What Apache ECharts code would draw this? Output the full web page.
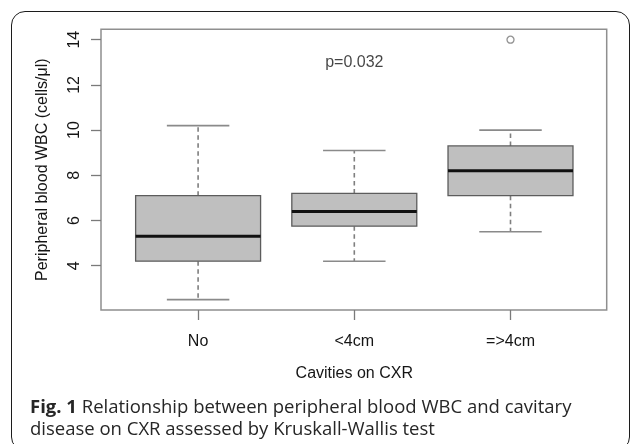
<!DOCTYPE html>
<html>
<head>
<meta charset="utf-8">
<script src="https://cdn.jsdelivr.net/npm/echarts@6/dist/echarts.min.js"></script>
<style>
  html, body { margin: 0; padding: 0; background: #fff; }
  #frame { position: absolute; left: 11px; top: 11px; width: 619px; height: 440px;
           border: 1.5px solid #1c1c1c; border-radius: 14px; box-sizing: border-box; }
  #chart { position: absolute; left: 0; top: 0; width: 630px; height: 444px; }
</style>
</head>
<body>
<div id="frame"></div>
<div id="chart"></div>
<script>
// ---- data ----
const categories = ['No', '<4cm', '=>4cm'];
const whiskerLow = [2.5, 4.2, 5.5];
const q1 = [4.2, 5.75, 7.1];
const median = [5.3, 6.4, 8.2];
const q3 = [7.1, 7.2, 9.3];
const whiskerHigh = [10.2, 9.1, 10.0];
const outlierCategory = ['=>4cm'];
const outlierValue = [14];
const yTicks = [4, 6, 8, 10, 12, 14];
const pText = 'p=0.032';
const pCategory = '<4cm';
const pY = 13;
const yTitle = 'Peripheral blood WBC (cells/\u03bcl)';
const xTitle = 'Cavities on CXR';
const captionLead = 'Fig. 1';
const captionLines = ['Relationship between peripheral blood WBC and cavitary',
                      'disease on CXR assessed by Kruskall-Wallis test'];

// R-style axis extent: data range padded by 4%
const allVals = whiskerLow.concat(whiskerHigh, outlierValue);
const lo = Math.min.apply(null, allVals), hi = Math.max.apply(null, allVals);
const pad = (hi - lo) * 0.04;
const yMin = lo - pad, yMax = hi + pad;

const FONT = 'Liberation Sans, Arial, sans-serif';
const TXT = '#151515';

const chart = echarts.init(document.getElementById('chart'));
chart.setOption({
  animation: false,
  title: {
    left: 25, top: 392,
    text: '{b|' + captionLead + '} {r|' + captionLines[0] + '}\n{r|' + captionLines[1] + '}',
    textStyle: {
      fontFamily: 'Open Sans', fontSize: 18.5, color: '#262626', lineHeight: 22,
      rich: {
        b: { fontFamily: 'Open Sans', fontWeight: 'bold', fontSize: 18.5, lineHeight: 22, color: '#262626' },
        r: { fontFamily: 'Open Sans', fontWeight: 'normal', fontSize: 18.5, lineHeight: 22, color: '#262626' }
      }
    }
  },
  grid: [
    { left: 101, right: 23.3, top: 29.3, bottom: 134, show: true,
      borderColor: '#8f8f8f', borderWidth: 1.5, backgroundColor: 'transparent' },
    { left: 120, right: 41.4, top: 29.3, bottom: 134 }
  ],
  xAxis: [
    { gridIndex: 0, type: 'value', min: 0, max: 1, show: false },
    { gridIndex: 1, type: 'category', data: categories,
      axisLine: { show: false },
      axisTick: { show: true, alignWithLabel: true, length: 10,
                  lineStyle: { color: '#7a7a7a', width: 1.3 } },
      axisLabel: { margin: 24, fontSize: 16, color: TXT, fontFamily: FONT },
      name: xTitle, nameLocation: 'middle', nameGap: 56,
      nameTextStyle: { fontSize: 16, color: TXT, fontFamily: FONT } }
  ],
  yAxis: [
    { gridIndex: 0, type: 'value', min: yMin, max: yMax,
      axisLine: { show: false },
      splitLine: { show: false },
      axisTick: { show: true, length: 10, customValues: yTicks,
                  lineStyle: { color: '#7a7a7a', width: 1.3 } },
      axisLabel: { customValues: yTicks, rotate: 90, margin: 18, fontSize: 16,
                   color: TXT, fontFamily: FONT },
      name: yTitle, nameLocation: 'middle', nameRotate: 90, nameGap: 50,
      nameTextStyle: { fontSize: 16, color: TXT, fontFamily: FONT } },
    { gridIndex: 1, type: 'value', min: yMin, max: yMax, show: false }
  ],
  series: [
    {
      type: 'custom', xAxisIndex: 1, yAxisIndex: 1,
      data: categories.map((c, i) => [i, whiskerLow[i], q1[i], median[i], q3[i], whiskerHigh[i]]),
      encode: { x: 0, y: [1, 2, 3, 4, 5] },
      renderItem: function (params, api) {
        const i = api.value(0);
        const x = api.coord([i, api.value(3)])[0];
        const yLo = api.coord([i, api.value(1)])[1];
        const yQ1 = api.coord([i, api.value(2)])[1];
        const yMed = api.coord([i, api.value(3)])[1];
        const yQ3 = api.coord([i, api.value(4)])[1];
        const yHi = api.coord([i, api.value(5)])[1];
        const band = api.size([1, 0])[0];
        const bw = band * 0.8, cw = bw / 2;
        const wStyle = { stroke: '#7f7f7f', lineWidth: 1.6, lineDash: [4.5, 3.5] };
        const cStyle = { stroke: '#8a8a8a', lineWidth: 1.6 };
        return {
          type: 'group',
          children: [
            { type: 'line', shape: { x1: x, y1: yQ3, x2: x, y2: yHi }, style: wStyle },
            { type: 'line', shape: { x1: x, y1: yQ1, x2: x, y2: yLo }, style: wStyle },
            { type: 'line', shape: { x1: x - cw / 2, y1: yHi, x2: x + cw / 2, y2: yHi }, style: cStyle },
            { type: 'line', shape: { x1: x - cw / 2, y1: yLo, x2: x + cw / 2, y2: yLo }, style: cStyle },
            { type: 'rect', shape: { x: x - bw / 2, y: yQ3, width: bw, height: yQ1 - yQ3 },
              style: { fill: '#bfbfbf', stroke: '#5c5c5c', lineWidth: 1.3 } },
            { type: 'line', shape: { x1: x - bw / 2, y1: yMed, x2: x + bw / 2, y2: yMed },
              style: { stroke: '#111', lineWidth: 3 } }
          ]
        };
      }
    },
    {
      type: 'scatter', xAxisIndex: 1, yAxisIndex: 1, silent: true,
      data: outlierCategory.map((c, i) => [c, outlierValue[i]]),
      symbol: 'circle', symbolSize: 7,
      itemStyle: { color: 'rgba(0,0,0,0)', borderColor: '#777', borderWidth: 1.3 }
    },
    {
      type: 'scatter', xAxisIndex: 1, yAxisIndex: 1, silent: true,
      data: [[pCategory, pY]],
      symbolSize: 1, itemStyle: { color: 'rgba(0,0,0,0)' },
      label: { show: true, position: 'inside', formatter: pText, fontSize: 16,
               color: TXT, fontFamily: FONT }
    }
  ]
});
</script>
</body>
</html>
